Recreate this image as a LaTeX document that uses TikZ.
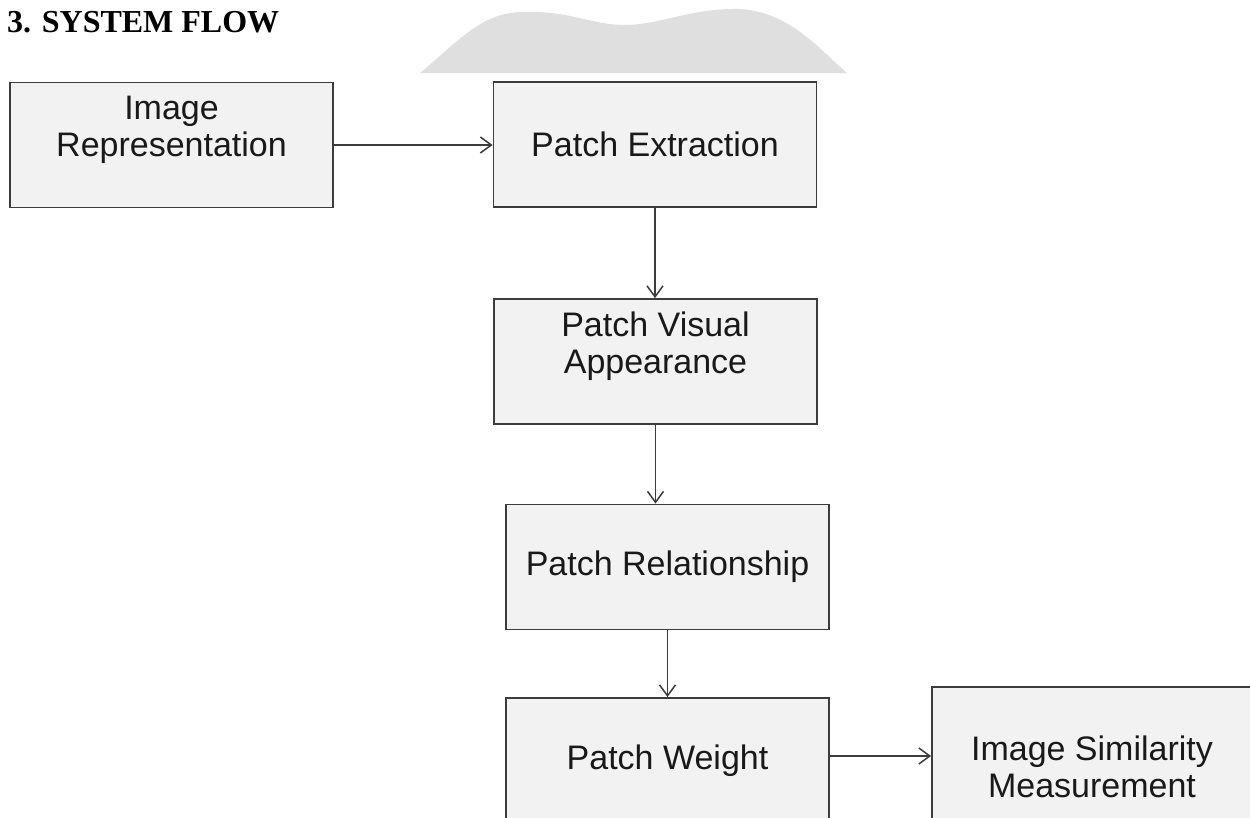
\documentclass[tikz,border=0pt]{standalone}
\usepackage{fontspec}
\setmainfont{Liberation Serif}
\newfontfamily\boxfont{Liberation Sans}
\usetikzlibrary{arrows.meta,calc}
\definecolor{boxfill}{HTML}{F2F2F2}
\definecolor{boxline}{HTML}{3C3C3C}
\definecolor{wmark}{HTML}{DFDFDF}
\newcommand{\padR}{\makebox[12pt]{}}
\tikzset{
  flowbox/.style={draw=boxline, fill=boxfill, line width=1.8pt, inner sep=0pt,
    minimum width=323pt, minimum height=125pt, align=center,
    font=\boxfont\fontsize{34}{37}\selectfont, text=black!90},
  flowarrow/.style={draw=boxline, line width=1.6pt,
    -{Straight Barb[length=11pt,width=16pt,line width=1.5pt]}},
  titletext/.style={inner sep=0pt, anchor=base west,
    font=\bfseries\fontsize{32}{36}\selectfont}
}
\begin{document}
\begin{tikzpicture}[x=1pt,y=-1pt]
\useasboundingbox (0,0) rectangle (1250,817);
\clip (0,0) rectangle (1250,817);
\fill[white] (0,0) rectangle (1250,817);
% faint watermark shape
\fill[wmark] (420,73) .. controls (460,40) and (480,14) .. (520,12)
  .. controls (570,10) and (590,25) .. (625,25)
  .. controls (660,25) and (690,8) .. (740,9)
  .. controls (790,12) and (820,50) .. (847,73) -- cycle;
\node[titletext] (title) at (7,32) {3. SYSTEM FLOW};
\node[flowbox] (b1) at (171.5,145) {Image\\Representation\\\mbox{}};
\node[flowbox] (b2) at (655,144.5) {Patch Extraction};
\node[flowbox] (b3) at (655.5,361.5) {Patch Visual\\Appearance\\\mbox{}};
\node[flowbox] (b4) at (667.5,567) {Patch Relationship};
\node[flowbox] (b5) at (667.5,760.5) {Patch Weight};
\node[flowbox, minimum width=332pt, minimum height=150pt] (b6) at (1098,762)
  {\rule{0pt}{36pt}\\Image Similarity\padR\\Measurement\padR\rule[-40pt]{0pt}{40pt}};
\draw[flowarrow] (b1.east) -- (b1.east -| b2.west);
\draw[flowarrow] (b2.south) -- (b2.south |- b3.north);
\draw[flowarrow] (b3.south) -- (b3.south |- b4.north);
\draw[flowarrow] (b4.south) -- (b4.south |- b5.north);
\draw[flowarrow] ([yshift=4.5pt]b5.east) -- ([yshift=4.5pt]b5.east -| b6.west);
\end{tikzpicture}
\end{document}
